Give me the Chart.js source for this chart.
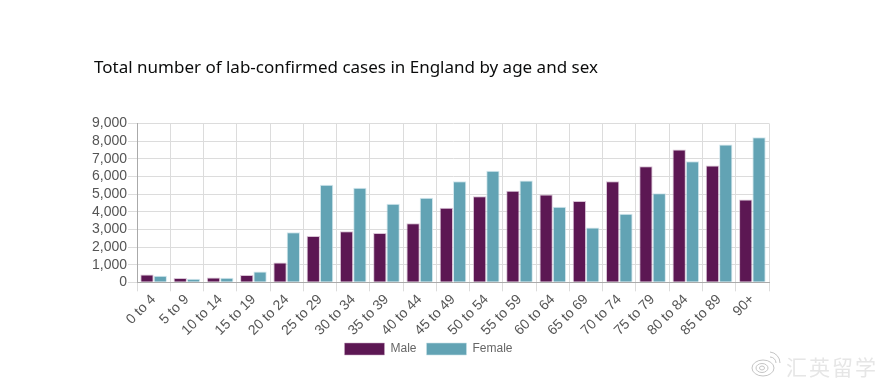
<!DOCTYPE html>
<html><head><meta charset="utf-8">
<style>
html,body{margin:0;padding:0;background:#fff}
#w{position:relative;width:885px;height:387px;overflow:hidden}
canvas{position:absolute;left:0;top:0}
#mark{position:absolute;left:786px;top:351px;font:21px "Noto Sans CJK SC";color:#e6e6e6;letter-spacing:2px;filter:blur(.6px);white-space:nowrap}
#icon{position:absolute;left:750px;top:350px;filter:blur(.3px)}
</style>
<script src="https://cdn.jsdelivr.net/npm/chart.js@4/dist/chart.umd.min.js"></script>
</head><body><div id="w"><canvas id="c" width="885" height="387"></canvas>
<svg id="icon" width="32" height="28" fill="none" stroke="#c4c4c4"><ellipse cx="13" cy="18" rx="11" ry="8"/><ellipse cx="12" cy="18" rx="6" ry="4.5"/><ellipse cx="12" cy="18" rx="2.5" ry="2"/><path d="M20 7a6 6 0 0 1 6 6M20 2a11 11 0 0 1 10 11"/></svg>
<div id="mark">汇英留学</div></div>
<script>
const categories=["0 to 4","5 to 9","10 to 14","15 to 19","20 to 24","25 to 29","30 to 34","35 to 39","40 to 44","45 to 49","50 to 54","55 to 59","60 to 64","65 to 69","70 to 74","75 to 79","80 to 84","85 to 89","90+"];
const male=[450,250,270,420,1130,2620,2900,2800,3340,4230,4880,5180,4980,4600,5720,6580,7520,6610,4690];
const female=[370,200,260,620,2840,5520,5350,4450,4790,5730,6320,5770,4280,3110,3890,5050,6860,7800,8220];
const titleText="Total number of lab-confirmed cases in England by age and sex";
const nudge={id:'nudge',afterLayout(c){
  c.legend.left-=2;c.legend.right-=2;c.legend.top-=6;c.legend.bottom-=6;
  c.titleBlock.left+=2;c.titleBlock.right+=2;
}};
new Chart(document.getElementById('c'),{
 type:'bar',
 plugins:[nudge],
 data:{labels:categories,datasets:[
  {label:'Male',data:male,backgroundColor:'#5c1753',borderColor:'rgba(200,170,195,0.7)',borderWidth:{top:1,left:1,right:1,bottom:0}},
  {label:'Female',data:female,backgroundColor:'#62a3b4',borderColor:'rgba(200,225,232,0.8)',borderWidth:{top:1,left:1,right:1,bottom:0}}
 ]},
 options:{responsive:false,animation:false,
  layout:{padding:{left:92,right:116,top:0,bottom:16}},
  datasets:{bar:{barPercentage:1,categoryPercentage:0.8}},
  scales:{
   x:{grid:{color:'#dcdcdc',tickLength:9,offset:true},border:{color:'#aaa'},ticks:{color:'#555',font:{size:14,family:'"Liberation Sans"'},maxRotation:45,minRotation:45,autoSkip:false,padding:0}},
   y:{min:0,max:9000,afterFit:s=>{s.width=45},grid:{color:'#dcdcdc',tickLength:9},border:{color:'#aaa'},ticks:{stepSize:1000,autoSkip:false,color:'#555',font:{size:14,family:'"Liberation Sans"'},padding:1,callback:v=>v.toLocaleString('en-US')}}
  },
  plugins:{
   title:{display:true,text:titleText,align:'start',color:'#0b0c0c',font:{size:17,weight:'normal',family:'"Noto Sans"'},padding:{top:58,bottom:45}},
   legend:{position:'bottom',labels:{boxWidth:40,boxHeight:12,color:'#666',font:{size:12,family:'"Liberation Sans"'},padding:10}},
   tooltip:{enabled:false}
  }
 }
});
</script></body></html>
